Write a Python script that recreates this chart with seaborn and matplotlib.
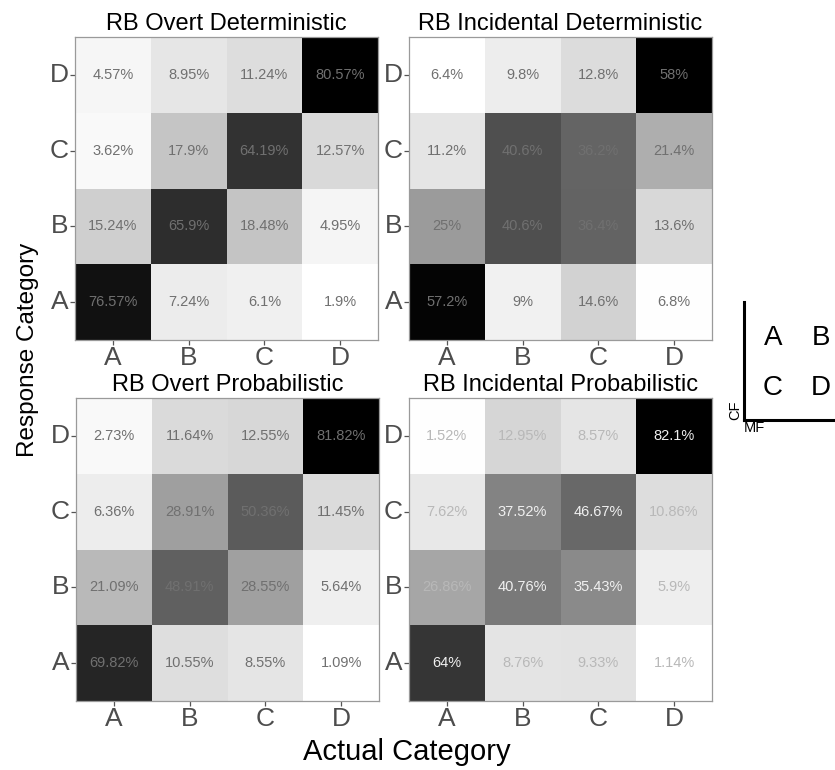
import numpy as np
import pandas as pd
import matplotlib
matplotlib.use("Agg")
import matplotlib.pyplot as plt
from matplotlib.colors import ListedColormap
import seaborn as sns

sns.set_theme(style="white")
plt.rcParams['font.family'] = ['Liberation Sans', 'DejaVu Sans']

# Data: rows are response category (top to bottom D, C, B, A), columns actual A..D
categories = ['A', 'B', 'C', 'D']
response_rows = ['D', 'C', 'B', 'A']

overt_det = [[4.57, 8.95, 11.24, 80.57],
             [3.62, 17.9, 64.19, 12.57],
             [15.24, 65.9, 18.48, 4.95],
             [76.57, 7.24, 6.1, 1.9]]

incidental_det = [[6.4, 9.8, 12.8, 58],
                  [11.2, 40.6, 36.2, 21.4],
                  [25, 40.6, 36.4, 13.6],
                  [57.2, 9, 14.6, 6.8]]

overt_prob = [[2.73, 11.64, 12.55, 81.82],
              [6.36, 28.91, 50.36, 11.45],
              [21.09, 48.91, 28.55, 5.64],
              [69.82, 10.55, 8.55, 1.09]]

incidental_prob = [[1.52, 12.95, 8.57, 82.1],
                   [7.62, 37.52, 46.67, 10.86],
                   [26.86, 40.76, 35.43, 5.9],
                   [64, 8.76, 9.33, 1.14]]

titles = ['RB Overt Deterministic', 'RB Incidental Deterministic',
          'RB Overt Probabilistic', 'RB Incidental Probabilistic']
panels = [overt_det, incidental_det, overt_prob, incidental_prob]

# white -> black gradient interpolated in Lab lightness (like ggplot)
t = np.linspace(0, 1, 256)
L = 100 * (1 - t)
Y = np.where(L > 8, ((L + 16) / 116) ** 3, L / 903.3)
srgb = np.where(Y <= 0.0031308, 12.92 * Y, 1.055 * Y ** (1 / 2.4) - 0.055)
srgb = np.clip(srgb, 0, 1)
grey_cmap = ListedColormap(np.column_stack([srgb, srgb, srgb]))

fig = plt.figure(figsize=(8.35, 7.7), dpi=100)

W, H = 835, 770
boxes = [(75, 37), (409, 37), (76, 398), (409, 398)]
size = 303

for k, (vals, title) in enumerate(zip(panels, titles)):
    x0, y0 = boxes[k]
    ax = fig.add_axes([x0 / W, (H - y0 - size) / H, size / W, size / H])
    df = pd.DataFrame(vals, index=response_rows, columns=categories)
    labels = df.map(lambda v: f"{v:g}%")
    sns.heatmap(df, ax=ax, cmap=grey_cmap, vmin=df.values.min(), vmax=df.values.max(),
                cbar=False, annot=labels, fmt='', annot_kws={'size': 10.5, 'color': '#707070'})
    if k == 3:
        for txt in ax.texts:
            v = float(txt.get_text().rstrip('%'))
            txt.set_color('#f0f0f0' if v >= 30 else '#b8b8b8')
    for sp in ax.spines.values():
        sp.set_visible(True)
        sp.set_color('#9a9a9a')
        sp.set_linewidth(0.9)
    ax.set_title(title, fontsize=17, pad=5, color='black')
    ax.set_xlabel('')
    ax.set_ylabel('')
    ax.tick_params(axis='both', which='major', length=3.5, width=0.9, color='#555555',
                   labelsize=19, labelcolor='#4d4d4d', pad=1, bottom=True, left=True)
    ax.set_yticklabels(ax.get_yticklabels(), rotation=0)
    ax.set_xticklabels(ax.get_xticklabels(), rotation=0)

fig.text(28 / W, (H - 350) / H, 'Response Category', rotation=90,
         ha='center', va='center', fontsize=17.5, color='black')
fig.text(407 / W, (H - 760) / H, 'Actual Category', ha='center', va='baseline',
         fontsize=21, color='black')

# layout key
key = fig.add_axes([744 / W, (H - 420) / H, (W - 744) / W, 118 / H])
key.set_facecolor('none')
key.set_xticks([])
key.set_yticks([])
for side in ['top', 'right']:
    key.spines[side].set_visible(False)
for side in ['left', 'bottom']:
    key.spines[side].set_color('black')
    key.spines[side].set_linewidth(2.2)
key.set_xlim(0, 1)
key.set_ylim(0, 1)
key_letters = [['A', 'B'], ['C', 'D']]
for r, row in enumerate(key_letters):
    for c, letter in enumerate(row):
        key.text(0.32 + c * 0.526, 0.695 - r * 0.425, letter, ha='center', va='center',
                 fontsize=20, color='black')
key.set_xlabel('MF', loc='left', labelpad=1, fontsize=10.5, color='black')
key.set_ylabel('CF', loc='bottom', labelpad=1, fontsize=10.5, color='black')

fig.savefig('out.png', dpi=100)
